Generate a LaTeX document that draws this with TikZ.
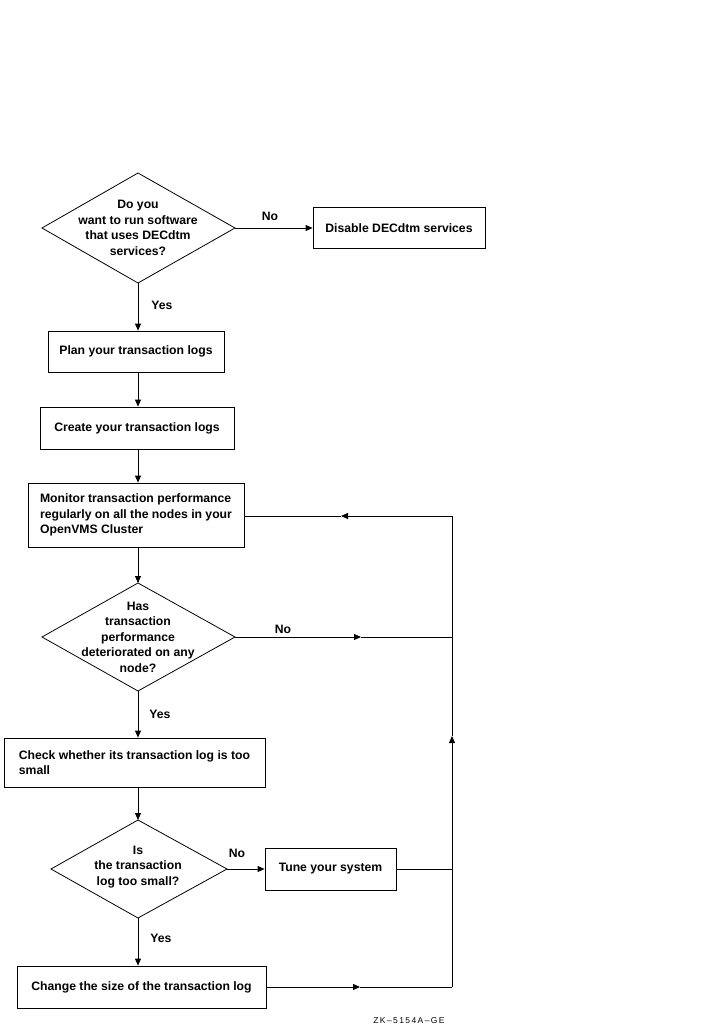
\documentclass[tikz,border=0pt]{standalone}
\usepackage{fontspec}
\setmainfont{Liberation Sans}
\usetikzlibrary{arrows.meta}
\begin{document}
\begin{tikzpicture}[x=1pt,y=-1pt,
  box/.style={draw, line width=0.8pt, inner sep=0pt, font=\bfseries\fontsize{12.2}{15.5}\selectfont, align=center},
  dtext/.style={inner sep=0pt, font=\bfseries\fontsize{12.2}{15.5}\selectfont, align=center},
  lbl/.style={inner sep=0pt, font=\bfseries\fontsize{12.2}{14}\selectfont},
  ln/.style={line width=0.8pt},
  arr/.style={line width=0.8pt, -{Triangle[length=7pt,width=6pt]}}]
\useasboundingbox (0,0) rectangle (709,1031);
% diamond 1
\coordinate (d1t) at (138,173); \coordinate (d1r) at (235,228);
\coordinate (d1b) at (138,283); \coordinate (d1l) at (42,228);
\draw[ln] (d1t) -- (d1r) -- (d1b) -- (d1l) -- cycle;
\node[dtext] (d1) at (138,228) {Do you\\want to run software\\that uses DECdtm\\services?};
\node[box, minimum width=172pt, minimum height=41pt] (dis) at (399,228) {Disable DECdtm services};
\node[box, minimum width=176pt, minimum height=41pt] (plan) at (136,351.5) {Plan your transaction logs};
\node[box, minimum width=194pt, minimum height=42pt] (cre) at (137,428) {Create your transaction logs};
\node[box, minimum width=216pt, minimum height=64pt, align=left] (mon) at (136,515) {Monitor transaction performance\\regularly on all the nodes in your\\OpenVMS Cluster};
% diamond 2
\coordinate (d2t) at (138,583); \coordinate (d2r) at (235,637);
\coordinate (d2b) at (138,691); \coordinate (d2l) at (42,637);
\draw[ln] (d2t) -- (d2r) -- (d2b) -- (d2l) -- cycle;
\node[dtext] (d2) at (138,637) {Has\\transaction\\performance\\deteriorated on any\\node?};
\node[box, minimum width=261pt, minimum height=49pt, align=left] (chk) at (134.5,762.5) {Check whether its transaction log is too\\small};
% diamond 3
\coordinate (d3t) at (138,820); \coordinate (d3r) at (227,869);
\coordinate (d3b) at (138,918); \coordinate (d3l) at (51,869);
\draw[ln] (d3t) -- (d3r) -- (d3b) -- (d3l) -- cycle;
\node[dtext] (d3) at (138,867) {Is\\the transaction\\log too small?};
\node[box, minimum width=131pt, minimum height=42pt] (tune) at (330.5,869) {Tune your system};
\node[box, minimum width=249pt, minimum height=42pt] (chg) at (141.5,987) {Change the size of the transaction log};
% return path coordinates
\coordinate (r1) at (452,516); \coordinate (r2) at (452,637);
\coordinate (r3) at (452,869); \coordinate (r4) at (452,987);
\coordinate (ru) at (452,736);
\coordinate (m1) at (341,516); \coordinate (m2) at (361,637); \coordinate (m4) at (360,987);
% connectors
\draw[arr] (d1r) -- (dis.west);
\draw[arr] (d1b) -- (d1b|-plan.north);
\draw[arr] (d1b|-plan.south) -- (d1b|-cre.north);
\draw[arr] (d1b|-cre.south) -- (d1b|-mon.north);
\draw[arr] (d1b|-mon.south) -- (d2t);
\draw[arr] (d2b) -- (d2b|-chk.north);
\draw[arr] (d2b|-chk.south) -- (d3t);
\draw[arr] (d3r) -- (tune.west);
\draw[arr] (d3b) -- (d3b|-chg.north);
\draw[arr] (d2r) -- (m2); \draw[ln] (m2) -- (r2);
\draw[arr] (chg.east) -- (m4); \draw[ln] (m4) -- (r4);
\draw[ln] (tune.east) -- (r3);
\draw[arr] (r4) -- (ru); \draw[ln] (ru) -- (r1);
\draw[arr] (r1) -- (m1); \draw[ln] (m1) -- (mon.east|-r1);
% labels
\node[lbl] (no1) at (270,216) {No};
\node[lbl] (yes1) at (162,305) {Yes};
\node[lbl] (no2) at (283,629) {No};
\node[lbl] (yes2) at (160,714) {Yes};
\node[lbl] (no3) at (237,853) {No};
\node[lbl] (yes3) at (161,938) {Yes};
\node[inner sep=0pt, font=\fontsize{8.5}{10}\selectfont] (zk) at (409,1021) {Z\,K\,–\,5\,1\,5\,4\,A\,–\,G\,E};
\end{tikzpicture}
\end{document}
